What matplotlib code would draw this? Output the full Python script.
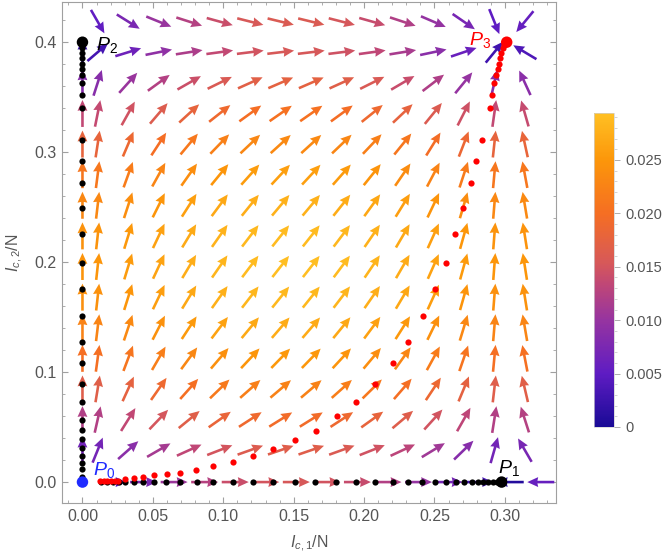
import matplotlib
matplotlib.use("Agg")
import matplotlib.pyplot as plt
import numpy as np
from matplotlib.cm import ScalarMappable
from matplotlib.colors import LinearSegmentedColormap, Normalize
from matplotlib.ticker import FixedLocator, MultipleLocator

plt.rcParams["font.family"] = ["Liberation Sans", "DejaVu Sans"]
plt.rcParams["mathtext.fontset"] = "custom"
plt.rcParams["mathtext.rm"] = "Liberation Sans"
plt.rcParams["mathtext.it"] = "Liberation Sans:italic"

# vector field sample points
grid_x = [0.0108, 0.0325, 0.0542, 0.0758, 0.0975, 0.1192, 0.1408, 0.1625,
          0.1842, 0.2058, 0.2275, 0.2492, 0.2708, 0.2925, 0.3142]
grid_y = [0.029, 0.0568, 0.0846, 0.1124, 0.1402, 0.168, 0.1958, 0.2236,
          0.2514, 0.2792, 0.307, 0.3348, 0.3626, 0.3904, 0.4182]
# flow: dx/dt per column, dy/dt per row
flow_u = [0.00212, 0.00591, 0.00906, 0.01156, 0.01343, 0.01465, 0.01524, 0.01519,
          0.01450, 0.01318, 0.01122, 0.00861, 0.00538, 0.00149, -0.00303]
flow_v = [0.00667, 0.01209, 0.01654, 0.02004, 0.02258, 0.02417, 0.02479, 0.02445,
          0.02316, 0.02091, 0.01770, 0.01353, 0.00841, 0.00232, -0.00472]

# arrows lying on the I_c,2 = 0 line
axis_x = [0.0217, 0.0434, 0.0651, 0.0868, 0.1085, 0.1302, 0.1519, 0.1736,
          0.1953, 0.217, 0.2387, 0.2604, 0.2821, 0.3038, 0.3255]
axis_u = [0.00411, 0.00757, 0.0104, 0.01258, 0.01413, 0.01503, 0.0153, 0.01492,
          0.0139, 0.01225, 0.00995, 0.00701, 0.00343, -0.00078, -0.00564]

# trajectory samples
black_x = [0.013, 0.0176, 0.022, 0.0256, 0.0305, 0.0365, 0.043, 0.0508, 0.0595,
           0.0692, 0.081, 0.093, 0.1066, 0.1208, 0.135, 0.151, 0.1651, 0.1798,
           0.1942, 0.2077, 0.2203, 0.2314, 0.2413, 0.2503, 0.2582, 0.2653,
           0.2712, 0.2764, 0.2807, 0.2847, 0.2882, 0.2913, 0.2942]
black_y = [0.0043, 0.0115, 0.0175, 0.024, 0.031, 0.0387, 0.047, 0.0563, 0.0723,
           0.0892, 0.108, 0.1276, 0.151, 0.175, 0.1994, 0.225, 0.249, 0.272,
           0.292, 0.311, 0.340, 0.352, 0.362, 0.370, 0.375, 0.380, 0.385,
           0.3895, 0.394]
red_x = [0.0125, 0.015, 0.0175, 0.0205, 0.0232, 0.0255, 0.0305, 0.0365, 0.043,
         0.0508, 0.0597, 0.0695, 0.0806, 0.093, 0.1066, 0.1209, 0.1353, 0.151,
         0.1657, 0.1806, 0.1945, 0.208, 0.2203, 0.2314, 0.2416, 0.2504, 0.258,
         0.2646, 0.2705, 0.2759, 0.2793, 0.2835, 0.2894, 0.2906, 0.2925, 0.2937,
         0.2949, 0.2958, 0.2965, 0.2974, 0.2984, 0.2994]
red_y = [0.0008, 0.0008, 0.0008, 0.0009, 0.001, 0.0012, 0.0027, 0.0034, 0.0044,
         0.006, 0.0075, 0.0086, 0.0112, 0.0143, 0.0182, 0.024, 0.0298, 0.0384,
         0.0466, 0.0596, 0.0723, 0.0892, 0.108, 0.1276, 0.151, 0.1752, 0.1994,
         0.2251, 0.2488, 0.272, 0.292, 0.311, 0.340, 0.352, 0.362, 0.370,
         0.375, 0.380, 0.385, 0.3895, 0.394, 0.397]

# fixed points
fixed_names = ["P_0", "P_1", "P_2", "P_3"]
fixed_x = [0.0, 0.2977, 0.0, 0.3013]
fixed_y = [0.0, 0.0, 0.3995, 0.3995]
fixed_colors = ["#1f2bff", "black", "black", "#ff0000"]

cmap = LinearSegmentedColormap.from_list(
    "flow",
    [(0.0, "#190a96"), (0.17, "#5f1cc3"), (0.34, "#9634a0"), (0.45, "#be4678"),
     (0.52, "#d6585a"), (0.68, "#f56e23"), (0.85, "#fc960a"), (1.0, "#ffc023")],
)
norm = Normalize(0.0, 0.0294)

W, H, DPI = 666, 560, 100
fig = plt.figure(figsize=(W / DPI, H / DPI), dpi=DPI)
ax = fig.add_axes([0.0938, 0.1018, 0.741, 0.8946])
xlim = (-0.0142, 0.3363)
ylim = (-0.019, 0.436)
ax.set_xlim(*xlim)
ax.set_ylim(*ylim)

# pixels per data unit, so the arrows keep the on-screen direction
pos = ax.get_position()
sx = pos.width * W / (xlim[1] - xlim[0])
sy = pos.height * H / (ylim[1] - ylim[0])


def draw_arrows(x, y, u, v):
    u = np.asarray(u, float)
    v = np.asarray(v, float)
    mag = np.hypot(u, v)
    du, dv = u * sx, v * sy
    n = np.hypot(du, dv)
    n[n == 0] = 1
    ax.quiver(x, y, du / n, dv / n, mag, cmap=cmap, norm=norm,
              angles="uv", scale_units="dots", scale=1 / 27, units="dots",
              width=2.6, headwidth=3.8, headlength=4.2, headaxislength=3.9,
              pivot="middle", zorder=2)


X, Y = np.meshgrid(grid_x, grid_y)
U = np.tile(flow_u, (len(grid_y), 1))
V = np.tile(np.array(flow_v)[:, None], (1, len(grid_x)))
draw_arrows(X.ravel(), Y.ravel(), U.ravel(), V.ravel())
# arrows along the two axes
draw_arrows(axis_x, np.zeros(len(axis_x)), axis_u, np.zeros(len(axis_x)))
draw_arrows(np.zeros(len(grid_y) - 1), grid_y[:-1], np.zeros(len(grid_y) - 1), flow_v[:-1])

ax.scatter(black_x, np.zeros(len(black_x)), s=20, color="black", lw=0, zorder=3)
ax.scatter(np.zeros(len(black_y)), black_y, s=20, color="black", lw=0, zorder=3)
ax.scatter(red_x, red_y, s=20, color="#ff0000", lw=0, zorder=4)
ax.scatter(fixed_x, fixed_y, s=68, color=fixed_colors, lw=0, zorder=5)

label_pos = [(0.0075, 0.0066), (0.295, 0.0084), (0.0095, 0.3924), (0.2745, 0.397)]
for name, (lx, ly), c in zip(fixed_names, label_pos, fixed_colors):
    ax.text(lx, ly, f"${name}$", color=c, fontsize=14, ha="left", va="baseline", zorder=6)

for side in ax.spines.values():
    side.set_color("#a0a0a0")
    side.set_linewidth(0.8)
ax.xaxis.set_major_locator(MultipleLocator(0.05))
ax.xaxis.set_minor_locator(MultipleLocator(0.01))
ax.yaxis.set_major_locator(MultipleLocator(0.1))
ax.yaxis.set_minor_locator(MultipleLocator(0.02))
ax.xaxis.set_major_formatter(lambda v, p: f"{v:.2f}")
ax.yaxis.set_major_formatter(lambda v, p: f"{v:.1f}")
ax.tick_params(which="both", direction="in", top=True, right=True, color="#a0a0a0",
               labelcolor="#555555", labelsize=11.5)
ax.tick_params(which="major", length=4.5, width=0.8, pad=4)
ax.tick_params(which="minor", length=2.5, width=0.6)
ax.set_xlabel("$I_{c,1}$/N", color="#555555", fontsize=11.5, labelpad=7)
ax.set_ylabel("$I_{c,2}$/N", color="#555555", fontsize=11.5, labelpad=7)

cax = fig.add_axes([0.892, 0.2375, 0.030, 0.5607])
cb = fig.colorbar(ScalarMappable(norm=norm, cmap=cmap), cax=cax)
cb.outline.set_edgecolor("#d0d0d0")
cb.outline.set_linewidth(0.5)
cb_ticks = [0.0, 0.005, 0.010, 0.015, 0.020, 0.025]
cb_labels = ["0", "0.005", "0.010", "0.015", "0.020", "0.025"]
cb.set_ticks(cb_ticks)
cb.set_ticklabels(cb_labels)
cax.yaxis.set_minor_locator(FixedLocator(np.arange(0, 0.0295, 0.001)))
cax.tick_params(which="major", length=4, width=0.6, color="#a0a0a0",
                labelcolor="#555555", labelsize=10.5, pad=4)
cax.tick_params(which="minor", length=2, width=0.5, color="#c0c0c0")

fig.savefig("out.png", dpi=DPI)
